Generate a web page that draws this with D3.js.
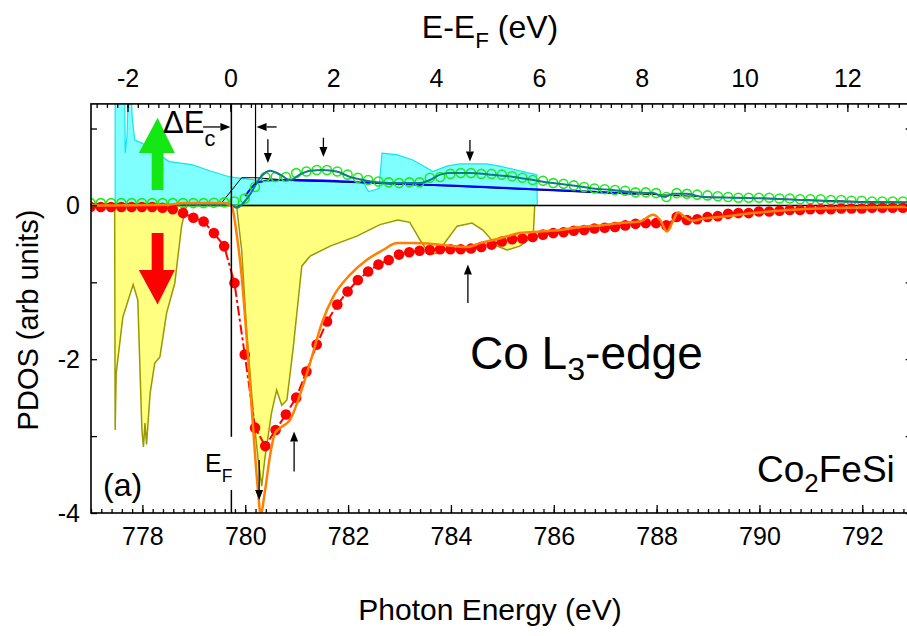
<!DOCTYPE html>
<html>
<head>
<meta charset="utf-8">
<script src="https://cdn.jsdelivr.net/npm/d3@7"></script>
<style>
  body { margin: 0; background: #fff; }
  text { font-family: "Liberation Sans", Arial, sans-serif; fill: #000; }
</style>
</head>
<body>
<svg id="chart" width="907" height="636"></svg>
<script>
// measured XAS, sampled every 0.2 eV starting at 776.99 eV
var xasStart = 776.99, xasStep = 0.2;
var xasUp = [0.03,0.03,0.03,0.03,0.03,0.03,0.03,0.03,0.03,0.03,0.03,0.03,0.035,0.04,
  0.05,0.09,0.24,0.37,0.37,0.37,0.42,0.44,0.46,0.46,0.44,0.40,0.36,0.33,0.31,0.30,
  0.29,0.30,0.30,0.36,0.37,0.41,0.42,0.42,0.41,0.41,0.40,0.38,0.36,0.33,0.32,0.29,
  0.28,0.26,0.24,0.22,0.21,0.20,0.19,0.17,0.17,0.16,0.11,0.16,0.15,0.14,0.13,0.12,
  0.11,0.10,0.10,0.10,0.10,0.09,0.09,0.08,0.08,0.08,0.07,0.07,0.06,0.06,0.05,0.05,0.05,0.05];
var xasDown = [-0.02,-0.02,-0.02,-0.02,-0.02,-0.02,-0.02,
  -0.03,-0.05,-0.10,-0.16,-0.21,-0.36,-0.53,-1.01,-1.94,-2.89,-3.13,-2.92,-2.72,-2.50,
  -2.16,-1.81,-1.51,-1.29,-1.12,-0.97,-0.86,-0.77,-0.71,-0.64,-0.61,-0.59,-0.58,-0.57,
  -0.57,-0.57,-0.56,-0.54,-0.51,-0.47,-0.44,-0.43,-0.41,-0.38,-0.36,-0.35,-0.33,-0.32,
  -0.30,-0.29,-0.28,-0.26,-0.24,-0.23,-0.23,-0.26,-0.15,-0.19,-0.18,-0.15,-0.14,-0.11,
  -0.10,-0.10,-0.08,-0.08,-0.07,-0.06,-0.06,-0.05,-0.05,-0.05,-0.04,-0.04,-0.04,-0.03,
  -0.03,-0.03,-0.03];

// calculated PDOS (filled) [eV, value]
var pdosUp = [[777.47,0],[777.47,2.0],[777.65,2.0],[777.665,0.68],[777.70,0.9],[777.75,2.0],
  [777.80,1.15],[777.85,0.85],[777.99,0.81],[778.24,0.70],[778.52,0.57],[778.96,0.53],
  [779.31,0.45],[779.70,0.37],[780.21,0.33],[781.0,0.32],[782.0,0.31],[782.29,0.30],
  [782.40,0.18],[782.60,0.22],[782.66,0.68],[782.94,0.66],[783.26,0.59],[783.65,0.44],
  [783.92,0.51],[784.17,0.54],[784.69,0.54],[784.95,0.51],[785.34,0.45],[785.67,0.40],[785.68,0]];
var pdosDown = [[777.46,0],[777.47,-2.92],[777.49,-2.18],[777.62,-1.45],[777.82,-1.03],
  [777.91,-1.23],[777.99,-2.92],[778.02,-3.14],[778.05,-2.83],[778.08,-3.11],[778.15,-2.44],
  [778.24,-2.05],[778.34,-1.97],[778.47,-1.40],[778.63,-1.01],[778.69,-0.67],[778.76,-0.28],
  [778.83,-0.06],[778.87,0],[779.83,0],[779.93,-0.58],[780.03,-1.66],[780.16,-2.74],
  [780.25,-3.30],[780.32,-3.65],[780.38,-3.30],[780.51,-2.70],[780.61,-2.40],[780.71,-2.60],
  [780.81,-2.53],[780.93,-1.87],[781.03,-1.23],[781.10,-0.79],[781.26,-0.66],[781.65,-0.53],
  [782.17,-0.40],[782.62,-0.25],[782.97,-0.19],[783.20,-0.22],[783.40,-0.45],[783.59,-0.64],
  [783.73,-0.62],[783.92,-0.45],[784.12,-0.27],[784.41,-0.23],[784.62,-0.32],[784.90,-0.53],
  [785.09,-0.58],[785.34,-0.53],[785.60,-0.40],[785.63,0]];

// calculated XAS lines [eV, value]
var calcUp = [[777,0.01],[779.70,0.01],[779.83,-0.03],[780.09,0.14],[780.29,0.36],[780.48,0.45],
  [780.68,0.40],[780.87,0.33],[781.06,0.40],[781.26,0.45],[781.51,0.46],[781.78,0.44],
  [782.04,0.37],[782.29,0.33],[782.56,0.30],[782.81,0.29],[783.40,0.29],[783.59,0.33],
  [783.79,0.40],[783.98,0.42],[784.37,0.42],[784.76,0.40],[785.21,0.37],[785.60,0.33],
  [785.98,0.29],[786.37,0.26],[786.76,0.22],[787.15,0.20],[787.54,0.17],[787.93,0.16],
  [788.16,0.11],[788.32,0.15],[788.59,0.15],[788.90,0.11],[789.56,0.10],[790.20,0.09],
  [790.85,0.07],[791.51,0.05],[792.15,0.04],[793,0.04]];
var calcDown = [[777,0.0],[778.5,0.01],[778.8,0.03],[779.6,0.03],[779.74,-0.02],[779.83,-0.36],
  [779.93,-0.92],[780.03,-1.75],[780.16,-2.96],[780.25,-3.73],[780.30,-4.02],[780.38,-3.73],
  [780.49,-3.22],[780.58,-2.96],[780.71,-2.88],[780.87,-2.79],[781.03,-2.53],[781.26,-2.05],
  [781.49,-1.53],[781.71,-1.19],[782.04,-0.90],[782.36,-0.71],[782.68,-0.58],[782.95,-0.49],
  [783.26,-0.49],[783.79,-0.51],[784.31,-0.54],[784.57,-0.49],[784.95,-0.43],[785.34,-0.36],
  [785.73,-0.34],[786.12,-0.32],[786.51,-0.28],[786.90,-0.26],[787.29,-0.23],[787.68,-0.21],
  [787.93,-0.12],[788.07,-0.19],[788.20,-0.34],[788.32,-0.20],[788.42,-0.09],[788.55,-0.15],
  [788.70,-0.20],[788.90,-0.17],[789.23,-0.15],[789.87,-0.10],[790.54,-0.06],[791.18,-0.04],
  [791.82,-0.03],[793,-0.02]];
var bgUp = [[780.0,0.12],[780.25,0.30],[780.6,0.33],[781.0,0.33],[782.0,0.31],[783.0,0.28],
  [784.0,0.26],[785.0,0.23],[786.0,0.20],[787.0,0.17],[787.6,0.15]];
var stepUp = [[779.50,0.0],[779.93,0.36],[780.2,0.36],[781,0.32],[782,0.30],[783,0.275],
  [784,0.25],[785,0.22],[786,0.19],[787,0.16],[788,0.14],[789,0.11],[790,0.09],[791,0.07],
  [792,0.05],[793,0.04]];

// annotations
var efEnergy = 779.73, ecEnergy = 780.20, efTop = 779.71;
var smallArrows = [
  { e: 780.44, from: 0.86, to: 0.55 }, { e: 781.52, from: 0.88, to: 0.63 },
  { e: 784.37, from: 0.85, to: 0.57 }, { e: 784.33, from: -1.27, to: -0.77 },
  { e: 780.95, from: -3.46, to: -2.94 }, { e: 780.27, from: -3.31, to: -3.83 }
];

var bottomTicks = [778, 780, 782, 784, 786, 788, 790, 792];
var topTicks = [-2, 0, 2, 4, 6, 8, 10, 12];
var leftTicks = [-4, -2, 0];
var leftMinor = [-3, -1, 1];

var svg = d3.select("#chart");
var x = d3.scaleLinear().domain([777, 793]).range([91, 913.7]);
var y = d3.scaleLinear().domain([-4, 1.32]).range([513, 103.9]);
var xTop = d3.scaleLinear().domain([777 - efTop, 793 - efTop]).range(x.range());

var xasData = xasUp.map(function (v, i) {
  return { e: xasStart + xasStep * i, up: v, down: xasDown[i] };
});

svg.append("rect").attr("width", 907).attr("height", 636).attr("fill", "#fff");
svg.append("clipPath").attr("id", "plot")
  .append("rect").attr("x", x(777)).attr("y", y(1.32))
  .attr("width", x(793) - x(777)).attr("height", y(-4) - y(1.32));

var plot = svg.append("g").attr("clip-path", "url(#plot)");

var area = d3.area().x(d => x(d[0])).y0(y(0)).y1(d => y(d[1]));
var line = d3.line().x(d => x(d[0])).y(d => y(d[1]));
var smooth = d3.line().x(d => x(d[0])).y(d => y(d[1])).curve(d3.curveMonotoneX);

plot.append("path").attr("d", area(pdosUp))
  .attr("fill", "#80ffff").attr("stroke", "#10e4ee").attr("stroke-width", 1.2);
plot.append("path").attr("d", area(pdosDown))
  .attr("fill", "#ffff80").attr("stroke", "#999900").attr("stroke-width", 1.5);

// zero line
plot.append("line").attr("x1", x(777)).attr("x2", x(793))
  .attr("y1", y(0)).attr("y2", y(0)).attr("stroke", "#000").attr("stroke-width", 1.5);

plot.append("path").attr("d", line(stepUp))
  .attr("fill", "none").attr("stroke", "#000").attr("stroke-width", 1);
plot.append("path").attr("d", smooth(bgUp))
  .attr("fill", "none").attr("stroke", "#0000ff").attr("stroke-width", 2);

plot.selectAll(".up").data(xasData).enter().append("circle")
  .attr("cx", d => x(d.e)).attr("cy", d => y(d.up)).attr("r", 4.5)
  .attr("fill", "none").attr("stroke", "#1cec1c").attr("stroke-width", 1.6);

plot.append("path").attr("d", smooth(calcUp))
  .attr("fill", "none").attr("stroke", "#137a8a").attr("stroke-width", 2);

plot.append("path").attr("d", line(xasData.map(d => [d.e, d.down])))
  .attr("fill", "none").attr("stroke", "#ff0000").attr("stroke-width", 2)
  .attr("stroke-dasharray", "10,3,3,3");
plot.selectAll(".dn").data(xasData).enter().append("circle")
  .attr("cx", d => x(d.e)).attr("cy", d => y(d.down)).attr("r", 5.3)
  .attr("fill", "#ff0000");

plot.append("path").attr("d", smooth(calcDown))
  .attr("fill", "none").attr("stroke", "#ff8000").attr("stroke-width", 2.5);

// vertical marker lines
plot.append("line").attr("x1", x(efEnergy)).attr("x2", x(efEnergy))
  .attr("y1", y(1.32)).attr("y2", y(-3.01)).attr("stroke", "#000").attr("stroke-width", 1.5);
plot.append("line").attr("x1", x(efEnergy)).attr("x2", x(efEnergy))
  .attr("y1", y(-3.7)).attr("y2", y(-4)).attr("stroke", "#000").attr("stroke-width", 1.5);
plot.append("line").attr("x1", x(ecEnergy)).attr("x2", x(ecEnergy))
  .attr("y1", y(1.32)).attr("y2", y(0.27)).attr("stroke", "#000").attr("stroke-width", 1.2);

function arrow(x1, y1, x2, y2) {
  var dx = x2 - x1, dy = y2 - y1, len = Math.sqrt(dx * dx + dy * dy);
  var ux = dx / len, uy = dy / len, hl = 10, hw = 4;
  var bx = x2 - ux * hl, by = y2 - uy * hl;
  svg.append("line").attr("x1", x1).attr("y1", y1).attr("x2", bx).attr("y2", by)
    .attr("stroke", "#000").attr("stroke-width", 1.3);
  svg.append("path").attr("fill", "#000")
    .attr("d", "M" + x2 + "," + y2 + "L" + (bx - uy * hw) + "," + (by + ux * hw) +
      "L" + (bx + uy * hw) + "," + (by - ux * hw) + "Z");
}
smallArrows.forEach(a => arrow(x(a.e), y(a.from), x(a.e), y(a.to)));
arrow(x(779.18), y(1.02), x(779.71), y(1.02));
arrow(x(780.61), y(1.02), x(780.22), y(1.02));

function bigArrow(v0, v1, tip, color) {
  var p = [[778.18, v0], [778.41, v0], [778.41, v1], [778.63, v1], [778.295, tip],
    [777.93, v1], [778.18, v1]];
  svg.append("path").attr("d", line(p) + "Z").attr("fill", color);
}
bigArrow(0.20, 0.68, 1.14, "#14e814");
bigArrow(-0.36, -0.84, -1.29, "#ff0000");

// frame
svg.append("rect").attr("x", x(777)).attr("y", y(1.32))
  .attr("width", x(793) - x(777)).attr("height", y(-4) - y(1.32))
  .attr("fill", "none").attr("stroke", "#000").attr("stroke-width", 1.6);

function styleAxis(g) {
  g.select(".domain").remove();
  g.selectAll("line").attr("stroke", "#000").attr("stroke-width", 1.3);
  g.selectAll("text").attr("font-size", 25).attr("fill", "#000")
    .attr("font-family", "Liberation Sans, Arial, sans-serif");
}
var minorX = d3.range(777, 793.01, 0.2);
var minorTop = d3.range(-2.6, 13.3, 0.2);

svg.append("g").attr("transform", "translate(0," + y(-4) + ")")
  .call(d3.axisBottom(x).tickValues(minorX).tickSize(-4).tickFormat("")).call(styleAxis);
svg.append("g").attr("transform", "translate(0," + y(-4) + ")")
  .call(d3.axisBottom(x).tickValues(bottomTicks).tickSize(-8).tickPadding(14)
    .tickFormat(d => String(d))).call(styleAxis);

svg.append("g").attr("transform", "translate(0," + y(1.32) + ")")
  .call(d3.axisTop(xTop).tickValues(minorTop).tickSize(-4).tickFormat("")).call(styleAxis);
svg.append("g").attr("transform", "translate(0," + y(1.32) + ")")
  .call(d3.axisTop(xTop).tickValues(topTicks).tickSize(-8).tickPadding(17)
    .tickFormat(d => String(d))).call(styleAxis);

svg.append("g").attr("transform", "translate(" + x(777) + ",0)")
  .call(d3.axisLeft(y).tickValues(leftTicks).tickSize(-6).tickPadding(11)
    .tickFormat(d => String(d))).call(styleAxis);
svg.append("g").attr("transform", "translate(" + x(777) + ",0)")
  .call(d3.axisLeft(y).tickValues(leftMinor).tickSize(-6).tickFormat("")).call(styleAxis);
svg.append("g").attr("transform", "translate(" + x(793) + ",0)")
  .call(d3.axisRight(y).tickValues(leftTicks.concat(leftMinor)).tickSize(-8).tickFormat(""))
  .call(styleAxis);

// texts
function richText(px, py, size, parts, anchor) {
  var t = svg.append("text").attr("x", px).attr("y", py)
    .attr("font-size", size).attr("text-anchor", anchor || "start");
  var shift = 0;
  parts.forEach(p => {
    var s = p.sub || 0;
    t.append("tspan").attr("dy", s - shift)
      .attr("font-size", s ? size * 0.7 : size).text(p.t);
    shift = s;
  });
  return t;
}
richText(490, 38, 32, [{ t: "E-E" }, { t: "F", sub: 10 }, { t: " (eV)" }], "middle");
richText(490, 620, 30, [{ t: "Photon Energy (eV)" }], "middle");
svg.append("text").attr("transform", "translate(38,320) rotate(-90)")
  .attr("text-anchor", "middle").attr("font-size", 29).text("PDOS (arb units)");
richText(163, 133, 31, [{ t: "\u0394E" }, { t: "c", sub: 13 }]);
richText(205, 472, 25, [{ t: "E" }, { t: "F", sub: 10 }]);
richText(103, 496, 32, [{ t: "(a)" }]);
richText(470, 369, 46, [{ t: "Co L" }, { t: "3", sub: 11 }, { t: "-edge" }]);
richText(757, 482, 37, [{ t: "Co" }, { t: "2", sub: 10 }, { t: "FeSi" }]);
</script>
</body>
</html>
